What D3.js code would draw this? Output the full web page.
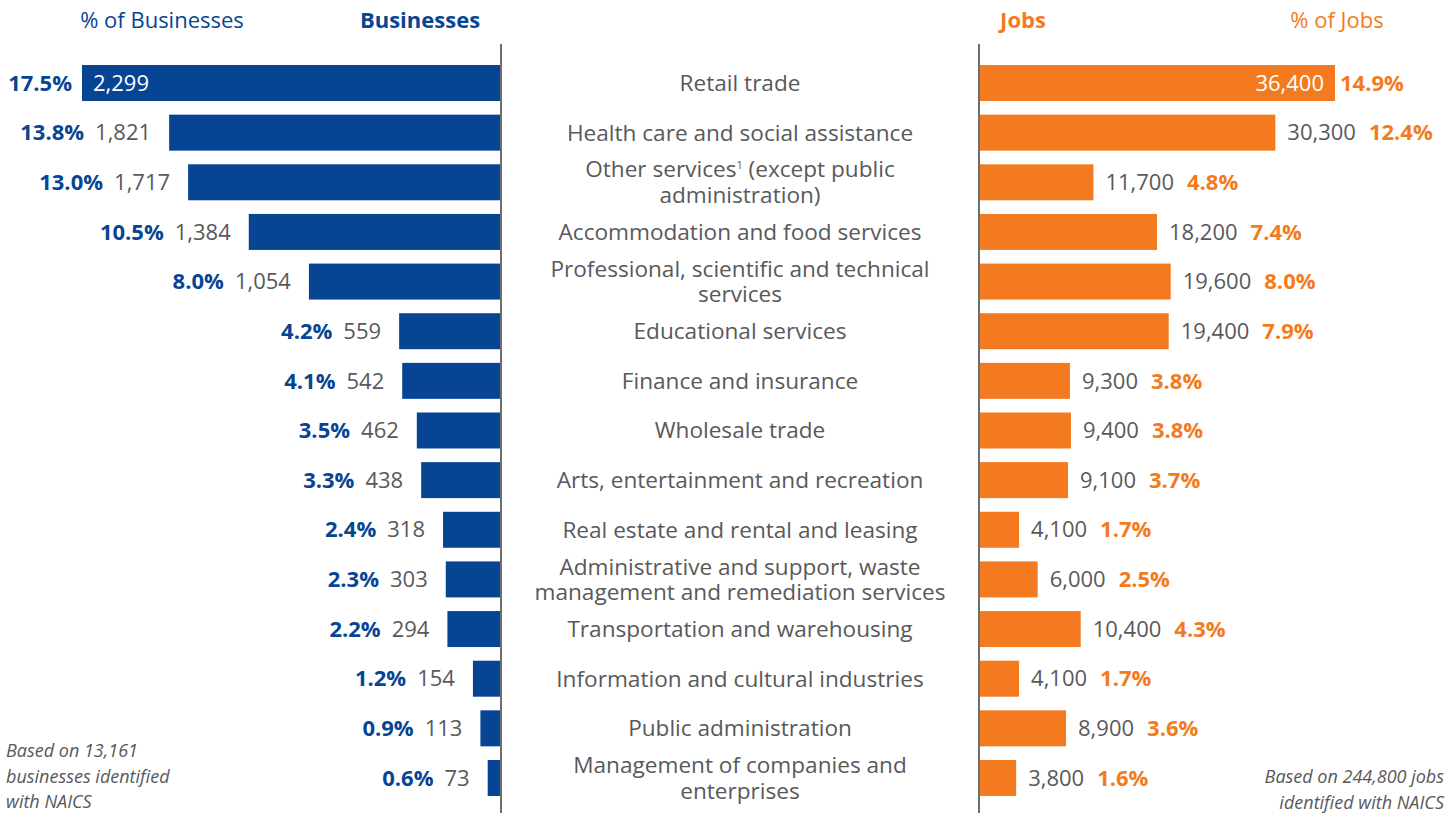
<!DOCTYPE html>
<html>
<head>
<meta charset="utf-8">
<script src="https://cdn.jsdelivr.net/npm/d3@7"></script>
<style>
  html, body { margin: 0; padding: 0; background: #fff; }
  svg { display: block; font-family: "Open Sans", "Noto Sans", sans-serif; }
</style>
</head>
<body>
<svg id="chart" width="1454" height="813"></svg>
<script>
// Industry labels; "|" breaks a label onto a second line, "^1" marks a footnote superscript
const categories = [
  "Retail trade",
  "Health care and social assistance",
  "Other services^1 (except public|administration)",
  "Accommodation and food services",
  "Professional, scientific and technical|services",
  "Educational services",
  "Finance and insurance",
  "Wholesale trade",
  "Arts, entertainment and recreation",
  "Real estate and rental and leasing",
  "Administrative and support, waste|management and remediation services",
  "Transportation and warehousing",
  "Information and cultural industries",
  "Public administration",
  "Management of companies and|enterprises"
];
const businesses = [2299, 1821, 1717, 1384, 1054, 559, 542, 462, 438, 318, 303, 294, 154, 113, 73];
const businessPct = [17.5, 13.8, 13.0, 10.5, 8.0, 4.2, 4.1, 3.5, 3.3, 2.4, 2.3, 2.2, 1.2, 0.9, 0.6];
const jobs = [36400, 30300, 11700, 18200, 19600, 19400, 9300, 9400, 9100, 4100, 6000, 10400, 4100, 8900, 3800];
const jobsPct = [14.9, 12.4, 4.8, 7.4, 8.0, 7.9, 3.8, 3.8, 3.7, 1.7, 2.5, 4.3, 1.7, 3.6, 1.6];
const headers = { bizPct: "% of Businesses", biz: "Businesses", jobs: "Jobs", jobsPct: "% of Jobs" };
const notesLeft = ["Based on 13,161", "businesses identified", "with NAICS"];
const notesRight = ["Based on 244,800 jobs", "identified with NAICS"];

const BLUE = "#074594", ORANGE = "#f47a20", GREY = "#58595b", AXIS = "#6d6e71";
const FS = 22;      // value labels and headers
const CAT_FS = 22.6; // category labels

const svg = d3.select("#chart");
const leftAxisX = 501, rightAxisX = 979;

const y = d3.scaleBand()
  .domain(d3.range(categories.length))
  .range([58.2, 802.8])
  .paddingInner(0.275)
  .paddingOuter(0.1375);

// Businesses grow leftward from the left axis, jobs rightward from the right axis
const xBiz = d3.scaleLinear().domain([0, 2299]).range([leftAxisX, 82]);
const xJobs = d3.scaleLinear().domain([0, 36400]).range([rightAxisX, 1335]);
const fmt = d3.format(",");
const pctFmt = d => d.toFixed(1) + "%";

const rows = categories.map((c, i) => ({
  i, label: c, biz: businesses[i], bizPct: businessPct[i], jobs: jobs[i], jobsPct: jobsPct[i]
}));

// Column headers
const head = svg.append("g").attr("font-size", FS);
head.append("text").attr("x", 162).attr("y", 28).attr("text-anchor", "middle")
  .attr("fill", BLUE).text(headers.bizPct);
head.append("text").attr("x", 420).attr("y", 28).attr("text-anchor", "middle")
  .attr("fill", BLUE).attr("font-weight", 700).text(headers.biz);
head.append("text").attr("x", 1023).attr("y", 28).attr("text-anchor", "middle")
  .attr("fill", ORANGE).attr("font-weight", 700).text(headers.jobs);
head.append("text").attr("x", 1337).attr("y", 28).attr("text-anchor", "middle")
  .attr("fill", ORANGE).text(headers.jobsPct);

// Left bars
const left = svg.append("g").selectAll("g").data(rows).join("g");
left.append("rect")
  .attr("x", d => xBiz(d.biz))
  .attr("y", d => y(d.i))
  .attr("width", d => leftAxisX - xBiz(d.biz) + 1)
  .attr("height", y.bandwidth())
  .attr("fill", BLUE);

left.each(function(d) {
  const g = d3.select(this);
  const cy = y(d.i) + y.bandwidth() / 2;
  const x0 = xBiz(d.biz);
  const inside = leftAxisX - x0 > 350;
  const t = g.append("g").attr("font-size", FS);
  if (inside) {
    t.append("text").attr("x", x0 + 11).attr("y", cy).attr("dy", "0.35em")
      .attr("fill", "#fff").text(fmt(d.biz));
    t.append("text").attr("x", x0 - 10).attr("y", cy).attr("dy", "0.35em")
      .attr("text-anchor", "end").attr("fill", BLUE).attr("font-weight", 700)
      .text(pctFmt(d.bizPct));
  } else {
    const num = t.append("text").attr("x", x0 - 18).attr("y", cy).attr("dy", "0.35em")
      .attr("text-anchor", "end").attr("fill", GREY).text(fmt(d.biz));
    const w = num.node().getComputedTextLength();
    t.append("text").attr("x", x0 - 18 - w - 11).attr("y", cy).attr("dy", "0.35em")
      .attr("text-anchor", "end").attr("fill", BLUE).attr("font-weight", 700)
      .text(pctFmt(d.bizPct));
  }
});

// Right bars
const right = svg.append("g").selectAll("g").data(rows).join("g");
right.append("rect")
  .attr("x", rightAxisX)
  .attr("y", d => y(d.i))
  .attr("width", d => xJobs(d.jobs) - rightAxisX)
  .attr("height", y.bandwidth())
  .attr("fill", ORANGE);

right.each(function(d) {
  const g = d3.select(this);
  const cy = y(d.i) + y.bandwidth() / 2;
  const x1 = xJobs(d.jobs);
  const inside = x1 - rightAxisX > 340;
  const t = g.append("g").attr("font-size", FS);
  if (inside) {
    t.append("text").attr("x", x1 - 11).attr("y", cy).attr("dy", "0.35em")
      .attr("text-anchor", "end").attr("fill", "#fff").text(fmt(d.jobs));
    t.append("text").attr("x", x1 + 5).attr("y", cy).attr("dy", "0.35em")
      .attr("fill", ORANGE).attr("font-weight", 700).text(pctFmt(d.jobsPct));
  } else {
    const num = t.append("text").attr("x", x1 + 12).attr("y", cy).attr("dy", "0.35em")
      .attr("fill", GREY).text(fmt(d.jobs));
    const w = num.node().getComputedTextLength();
    t.append("text").attr("x", x1 + 12 + w + 13).attr("y", cy).attr("dy", "0.35em")
      .attr("fill", ORANGE).attr("font-weight", 700).text(pctFmt(d.jobsPct));
  }
});

// Axis lines
svg.append("line").attr("x1", leftAxisX).attr("x2", leftAxisX).attr("y1", 44).attr("y2", 813)
  .attr("stroke", AXIS).attr("stroke-width", 2);
svg.append("line").attr("x1", rightAxisX).attr("x2", rightAxisX).attr("y1", 44).attr("y2", 813)
  .attr("stroke", AXIS).attr("stroke-width", 2);

// Category labels, centred between the two axes
const midX = (leftAxisX + rightAxisX) / 2;
const lineH = 25.5;
svg.append("g").selectAll("text").data(rows).join("text")
  .attr("font-size", CAT_FS)
  .attr("fill", GREY)
  .attr("text-anchor", "middle")
  .each(function(d) {
    const lines = d.label.split("|");
    const cy = y(d.i) + y.bandwidth() / 2;
    const t = d3.select(this);
    lines.forEach((ln, k) => {
      const ly = cy + (k - (lines.length - 1) / 2) * lineH + CAT_FS * 0.35;
      const parts = ln.split("^1");
      const span = t.append("tspan").attr("x", midX).attr("y", ly);
      if (parts.length === 1) {
        span.text(ln);
      } else {
        // footnote marker raised with relative shifts so the line stays one centred chunk
        span.text(parts[0]);
        t.append("tspan").attr("font-size", 11).attr("dy", -8).text("1");
        t.append("tspan").attr("dy", 8).text(parts[1]);
      }
    });
  });

// Footnotes
const nl = svg.append("g").attr("font-size", 18).attr("font-style", "italic").attr("fill", GREY);
notesLeft.forEach((s, k) => nl.append("text").attr("x", 6).attr("y", 757 + k * 25.5).text(s));
const nr = svg.append("g").attr("font-size", 18).attr("font-style", "italic").attr("fill", GREY)
  .attr("text-anchor", "end");
notesRight.forEach((s, k) => nr.append("text").attr("x", 1444).attr("y", 783 + k * 25.5).text(s));
</script>
</body>
</html>
